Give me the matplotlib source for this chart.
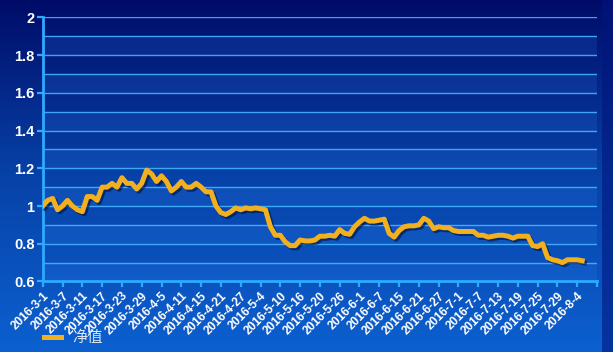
import numpy as np
import matplotlib
matplotlib.use("Agg")
import matplotlib.pyplot as plt
import matplotlib.patheffects as pe
from matplotlib.colors import LinearSegmentedColormap

# 净值 series, one value per trading day from 2016-3-1 to 2016-8-5
nav = [1.00, 1.03, 1.04, 0.98, 1.00, 1.03, 1.00, 0.98, 0.97, 1.05,
       1.05, 1.03, 1.10, 1.10, 1.12, 1.10, 1.15, 1.12, 1.12, 1.09,
       1.12, 1.19, 1.17, 1.13, 1.16, 1.13, 1.08, 1.10, 1.13, 1.10,
       1.10, 1.12, 1.10, 1.075, 1.075, 1.00, 0.965, 0.955, 0.97, 0.99,
       0.98, 0.99, 0.985, 0.99, 0.985, 0.98, 0.89, 0.845, 0.845, 0.81,
       0.79, 0.79, 0.82, 0.815, 0.815, 0.82, 0.84, 0.84, 0.845, 0.84,
       0.875, 0.855, 0.85, 0.89, 0.915, 0.935, 0.92, 0.92, 0.925, 0.93,
       0.855, 0.835, 0.87, 0.89, 0.895, 0.895, 0.90, 0.935, 0.92, 0.88,
       0.89, 0.885, 0.885, 0.87, 0.865, 0.865, 0.865, 0.865, 0.845, 0.845,
       0.835, 0.84, 0.845, 0.845, 0.84, 0.83, 0.84, 0.84, 0.84, 0.79,
       0.785, 0.80, 0.727, 0.715, 0.71, 0.70, 0.715, 0.715, 0.715, 0.71]

# one label every 4 trading days
tick_labels = ["2016-3-1", "2016-3-7", "2016-3-11", "2016-3-17", "2016-3-23",
               "2016-3-29", "2016-4-5", "2016-4-11", "2016-4-15", "2016-4-21",
               "2016-4-27", "2016-5-4", "2016-5-10", "2016-5-16", "2016-5-20",
               "2016-5-26", "2016-6-1", "2016-6-7", "2016-6-15", "2016-6-21",
               "2016-6-27", "2016-7-1", "2016-7-7", "2016-7-13", "2016-7-19",
               "2016-7-25", "2016-7-29", "2016-8-4"]
y_ticks = [0.6, 0.8, 1, 1.2, 1.4, 1.6, 1.8, 2]

cyan = "#2eaaff"
fig = plt.figure(figsize=(6.13, 3.52), dpi=100)

# blue gradient background
bg = fig.add_axes([0, 0, 1, 1], zorder=-2)
grad = np.linspace(0, 1, 256).reshape(-1, 1)
cmap = LinearSegmentedColormap.from_list("bg", ["#000c68", "#0742a8", "#0c60d0"])
bg.imshow(grad, aspect="auto", cmap=cmap, extent=[0, 1, 0, 1], origin="upper")
bg.axvspan(0.982, 1, color="#00167e", alpha=0.6, lw=0)
bg.set_xlim(0, 1)
bg.set_ylim(0, 1)
bg.axis("off")

ax = fig.add_axes([0.0697, 0.2003, 0.9043, 0.7505])
ax.patch.set_alpha(0)

# lighter bands and gridlines every 0.1
for lo in np.arange(0.6, 2.0, 0.2):
    ax.axhspan(lo, lo + 0.1, color="#3a8cff", alpha=0.15, lw=0, zorder=0)
for g in np.arange(0.7, 2.01, 0.1):
    ax.axhline(g, color="#45b4ff", lw=1.0, alpha=0.9, zorder=1)

x = np.arange(len(nav))
line, = ax.plot(x, nav, color="#f2b01e", lw=3.6, solid_joinstyle="round", zorder=3,
                path_effects=[pe.SimpleLineShadow(offset=(1.5, -1.5), shadow_color="#001040", alpha=0.6),
                              pe.Normal()])

ax.set_xlim(0, 112)
ax.set_ylim(0.6, 2.0)
ax.set_xticks(np.arange(0, 113, 4))
ax.set_xticklabels(tick_labels + [""], rotation=45, ha="right", va="top",
                   rotation_mode="anchor", fontsize=8.6, fontweight="bold",
                   family="Liberation Sans")
ax.set_yticks(y_ticks)
ax.set_yticklabels(["0.6", "0.8", "1", "1.2", "1.4", "1.6", "1.8", "2"],
                   fontsize=10.5, fontweight="bold", family="Liberation Sans")
ax.tick_params(axis="both", colors=cyan, length=4, width=1.6)
ax.tick_params(axis="x", pad=2)
ax.tick_params(axis="y", pad=2)
for lbl in ax.get_xticklabels() + ax.get_yticklabels():
    lbl.set_color("white")

for side in ["top", "right"]:
    ax.spines[side].set_visible(False)
ax.spines["left"].set_color(cyan)
ax.spines["bottom"].set_color(cyan)
ax.spines["left"].set_linewidth(2)
ax.spines["bottom"].set_linewidth(2)

leg = fig.legend([line], ["净值"], loc="center left", bbox_to_anchor=(0.05, 0.04),
                 frameon=False, handlelength=1.1, handletextpad=0.7,
                 prop={"family": ["Noto Sans CJK SC", "DejaVu Sans"], "size": 11})
leg.get_lines()[0].set_path_effects([])
for t in leg.get_texts():
    t.set_color("#dde6f5")

fig.savefig("out.png", dpi=100)
